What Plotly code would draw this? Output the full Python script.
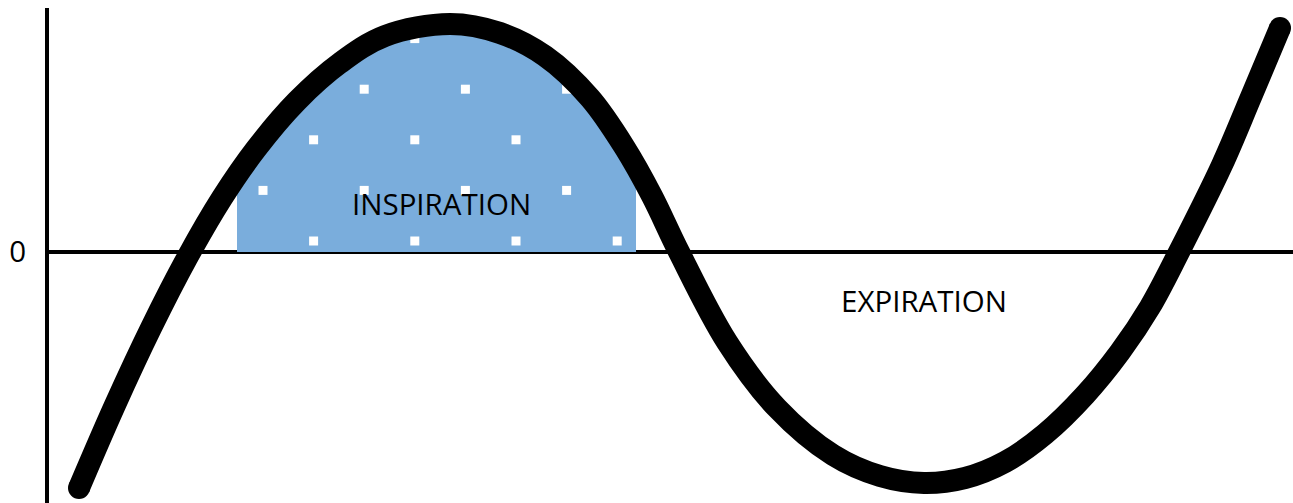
import numpy as np
import plotly.graph_objects as go

# breathing flow curve (time index, flow)
time = [32, 68, 104, 140, 175, 209, 250, 293, 338, 403, 453, 498, 543, 578, 605,
        632, 680, 730, 786, 833, 877, 918, 958, 998, 1038, 1073, 1103, 1132, 1175, 1204, 1233]
flow = [-236, -153, -76, -6, 54, 103, 151, 189, 216, 228, 219, 196, 154, 104, 56,
        0, -90, -156, -203, -224, -231, -226, -210, -182, -143, -100, -55, 0, 87, 155, 224]

# shaded inspiration window
insp_start = 190
insp_end = 589

labels = ["INSPIRATION", "EXPIRATION"]
label_x = [394, 877]
label_y = [49, -48]

fill_blue = "#7aaddc"
font = "Open Sans"

t = np.array(time, dtype=float)
f = np.array(flow, dtype=float)

# area under the curve between the two limits
inside = (t > insp_start) & (t < insp_end)
fx = np.concatenate([[insp_start], t[inside], [insp_end]])
fy = np.concatenate([[np.interp(insp_start, t, f)], f[inside], [np.interp(insp_end, t, f)]])

# staggered dot texture inside the shaded area
step = 50.6
gx, gy = np.meshgrid(np.arange(216, insp_end, step), np.arange(11, 240, step))
ii, jj = np.meshgrid(np.arange(gx.shape[1]), np.arange(gx.shape[0]))
keep = ((ii + jj) % 2 == 1) & (gx < insp_end - 4) & (gy < np.interp(gx, t, f))
dot_x = gx[keep]
dot_y = gy[keep]

fig = go.Figure()

fig.add_trace(go.Scatter(
    x=fx, y=fy, mode="lines", fill="tozeroy",
    fillcolor=fill_blue, line=dict(width=0, shape="spline"),
    hoverinfo="skip", showlegend=False,
))

fig.add_trace(go.Scatter(
    x=dot_x, y=dot_y, mode="markers",
    marker=dict(symbol="square", size=9, color="white"),
    hoverinfo="skip", showlegend=False,
))

fig.add_trace(go.Scatter(
    x=time, y=flow, mode="lines",
    line=dict(color="black", width=22, shape="spline", smoothing=1),
    showlegend=False,
))

# round ends of the thick line
fig.add_trace(go.Scatter(
    x=[time[0], time[-1]], y=[flow[0], flow[-1]], mode="markers",
    marker=dict(size=22, color="black"), showlegend=False,
))

for txt, lx, ly in zip(labels, label_x, label_y):
    fig.add_annotation(x=lx, y=ly, text=txt, showarrow=False,
                       font=dict(family=font, size=29.5, color="black"))

fig.update_layout(
    width=1293, height=503,
    margin=dict(l=49, r=0, t=8, b=0),
    paper_bgcolor="white", plot_bgcolor="white",
    xaxis=dict(range=[2, 1246], visible=False),
    yaxis=dict(
        range=[-251, 244], showgrid=False, layer="above traces",
        showline=True, linecolor="black", linewidth=4,
        zeroline=True, zerolinecolor="black", zerolinewidth=4,
        tickmode="array", tickvals=[0], ticktext=["0"],
        tickfont=dict(family=font, size=29.5, color="black"),
        ticklabelstandoff=13,
    ),
)

fig.write_html("out.html", config={"displayModeBar": False},
               post_script="document.body.style.margin='0';")
